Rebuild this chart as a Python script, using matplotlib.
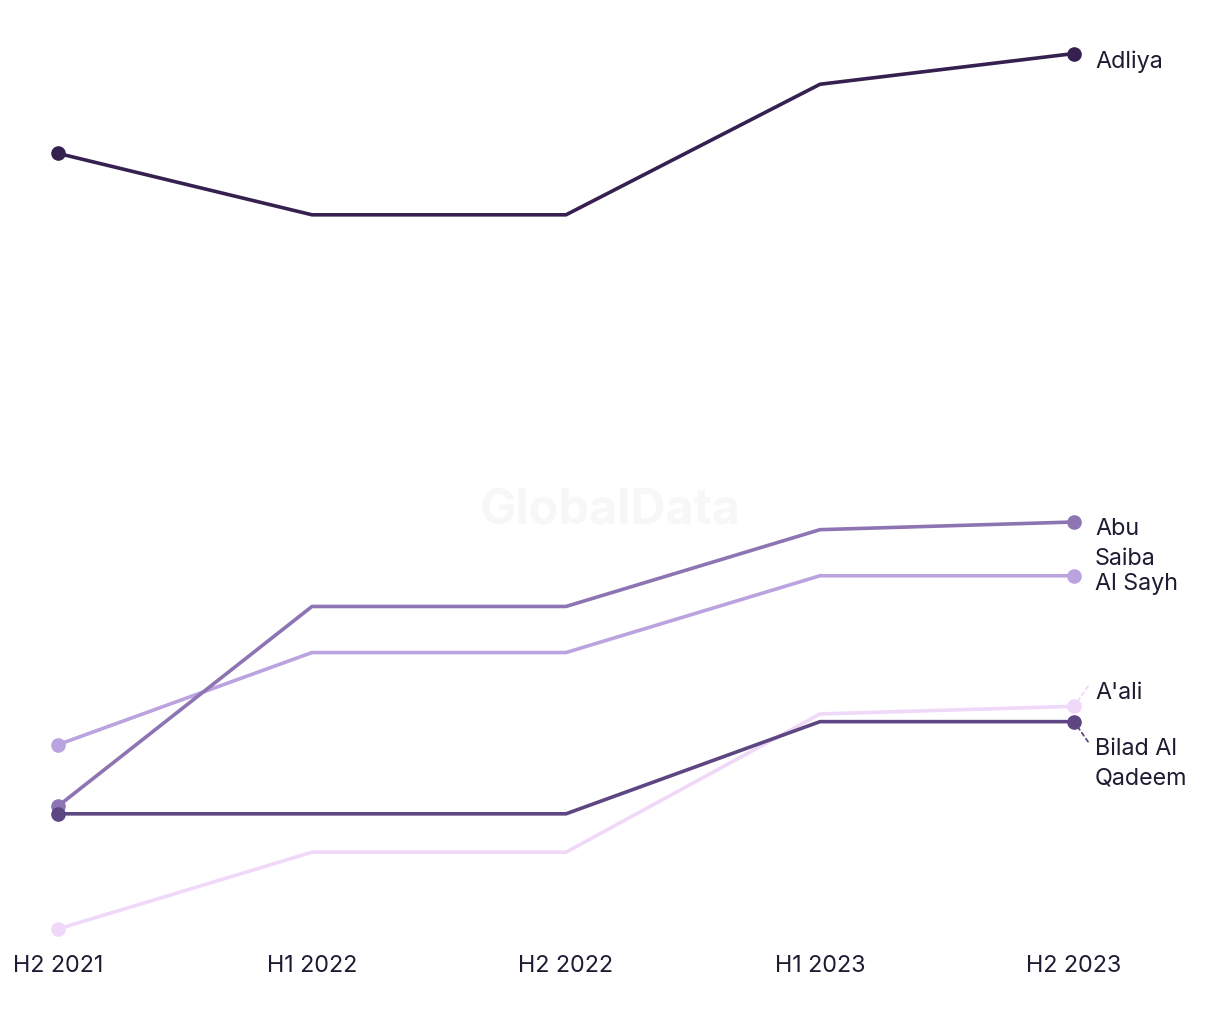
#!/usr/bin/env python3
"""Half-year trend lines for five areas, labelled at the right end."""

import matplotlib.pyplot as plt

periods = ["H2 2021", "H1 2022", "H2 2022", "H1 2023", "H2 2023"]

adliya = [111, 103, 103, 120, 124]
abu_saiba = [26, 52, 52, 62, 63]
al_sayh = [34, 46, 46, 56, 56]
aali = [10, 20, 20, 38, 39]
bilad_al_qadeem = [25, 25, 25, 37, 37]

# (values, label, colour, label offset in px, leader line)
series = [
    (adliya, "Adliya", "#35204f", -7, False),
    (al_sayh, "Al Sayh", "#bba3df", -7, False),
    (abu_saiba, "Abu\nSaiba", "#8d74b3", -21, False),
    (aali, "A'ali", "#f0d8f9", 14, True),
    (bilad_al_qadeem, "Bilad Al\nQadeem", "#5d4682", -41, True),
]

plt.rcParams["font.family"] = ["Inter", "DejaVu Sans"]

W, H = 1220, 1020
fig = plt.figure(figsize=(W / 100, H / 100), dpi=100)
x0, x1 = 58, 1074
y_top, y_bot = 53, 930
ax = fig.add_axes([x0 / W, (H - y_bot) / H, (x1 - x0) / W, (y_bot - y_top) / H])
ax.set_xlim(0, len(periods) - 1)
ax.set_ylim(10, 124.2)

fig.text(610 / W, 1 - 510 / H, "GlobalData", ha="center", va="center",
         fontsize=35, fontweight="bold", color="#f7f7f7", zorder=0)

xs = list(range(len(periods)))
for vals, name, color, dy, leader in series:
    ax.plot(xs, vals, color=color, lw=2.6, solid_capstyle="round", zorder=2, clip_on=False)
    ax.plot([xs[0], xs[-1]], [vals[0], vals[-1]], "o", color=color, ms=9.5, zorder=3, clip_on=False)
    ax.annotate(name, (xs[-1], vals[-1]), xytext=(21, dy), textcoords="offset pixels",
                ha="left", va="center", fontsize=16.8, color="#1f1b33", linespacing=1.45)
    if leader:
        sgn = 1 if dy > 0 else -1
        ax.annotate("", (xs[-1], vals[-1]), xytext=(14, sgn * 20), textcoords="offset pixels",
                    arrowprops=dict(arrowstyle="-", color=color, lw=1.3, ls=(0, (2, 2)),
                                    shrinkA=0, shrinkB=6))

ax.set_xticks(xs)
ax.set_xticklabels(periods, fontsize=16.8, color="#1f1b33")
ax.tick_params(axis="x", length=0, pad=18)
ax.set_yticks([])
for s in ax.spines.values():
    s.set_visible(False)
ax.patch.set_alpha(0)

fig.savefig("out.png", dpi=100)
